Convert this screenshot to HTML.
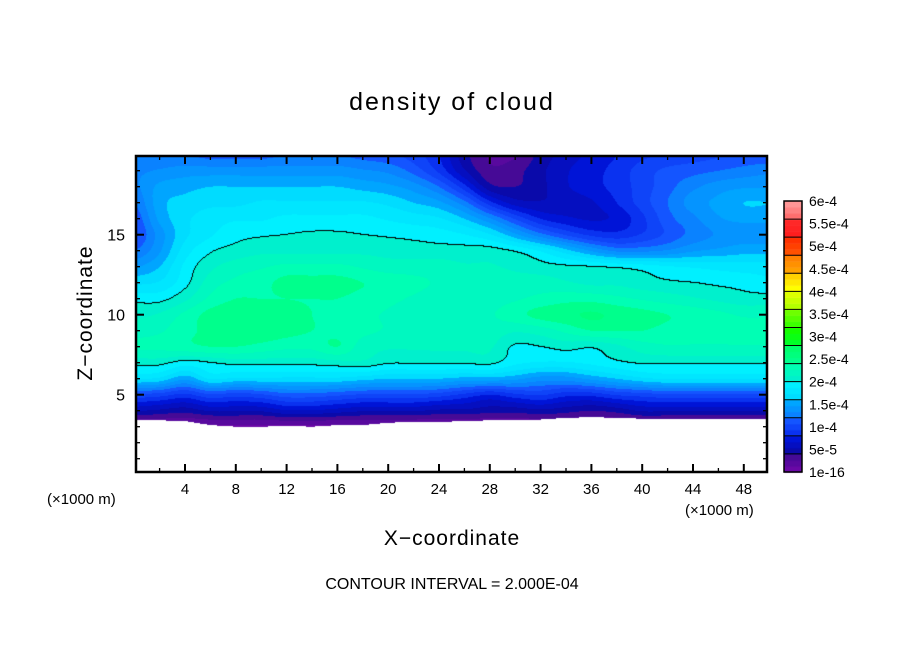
<!DOCTYPE html>
<html><head><meta charset="utf-8"><style>
body{margin:0;background:#fff;}
#wrap{position:relative;width:904px;height:654px;overflow:hidden;background:#fff;font-family:"Liberation Sans",sans-serif;color:#000;}
.t{position:absolute;white-space:nowrap;}
</style></head><body>
<div id="wrap">
<div class="t" style="left:0;width:904px;text-align:center;top:88px;font-size:25px;letter-spacing:2px;">density of cloud</div>
<canvas id="cv" width="904" height="654" style="position:absolute;left:0;top:0;"></canvas>
<svg id="sv" width="904" height="654" style="position:absolute;left:0;top:0;"></svg>
<div class="t" style="left:0;width:904px;text-align:center;top:527px;font-size:21px;letter-spacing:1px;">X−coordinate</div>
<div class="t" style="left:86px;top:313px;font-size:21px;letter-spacing:1px;transform:translate(-50%,-50%) rotate(-90deg);">Z−coordinate</div>
<div class="t" style="left:47px;top:491px;font-size:15px;">(×1000 m)</div>
<div class="t" style="left:685px;top:502px;font-size:15px;">(×1000 m)</div>
<div class="t" style="left:0;width:904px;text-align:center;top:576px;font-size:16px;">CONTOUR INTERVAL = 2.000E-04</div>
</div>
<script>
// grid x = 0,2,...,50 (km); rows z = 20 down to 3 (km); values in units of 1e-4
const xGrid=[0,2,4,6,8,10,12,14,16,18,20,22,24,26,28,30,32,34,36,38,40,42,44,46,48,50];
const zGrid=[20,19,18,17,16,15,14,13,12,11,10,9,8,7,6,5,4,3];
const row20=[1.2,1.2,1.2,1.15,1.15,1.15,1.2,1.2,1.2,1.15,1.1,1.0,0.8,0.45,0.25,0.25,0.45,0.6,0.7,0.8,0.9,0.95,1.0,1.05,1.1,1.1];
const row19=[1.3,1.35,1.4,1.4,1.4,1.4,1.4,1.4,1.4,1.35,1.3,1.15,0.9,0.55,0.3,0.35,0.5,0.65,0.75,0.85,1.0,1.1,1.15,1.2,1.25,1.3];
const row18=[1.3,1.5,1.55,1.6,1.6,1.6,1.6,1.6,1.6,1.55,1.5,1.4,1.2,0.85,0.45,0.4,0.5,0.65,0.75,0.85,1.0,1.15,1.3,1.4,1.45,1.45];
const row17=[1.2,1.55,1.65,1.7,1.7,1.75,1.75,1.75,1.75,1.75,1.7,1.6,1.5,1.25,0.85,0.6,0.55,0.6,0.65,0.8,1.0,1.2,1.4,1.5,1.6,1.6];
const row16=[1.1,1.5,1.7,1.8,1.85,1.85,1.9,1.9,1.9,1.9,1.85,1.8,1.75,1.6,1.35,1.05,0.8,0.7,0.65,0.7,0.9,1.15,1.3,1.45,1.5,1.5];
const row15=[1.05,1.4,1.7,1.85,1.95,1.98,2.0,2.02,2.02,2.0,1.98,1.96,1.93,1.87,1.75,1.5,1.25,1.05,0.9,0.85,0.95,1.1,1.25,1.35,1.4,1.4];
const row14=[1.2,1.45,1.8,1.98,2.05,2.1,2.1,2.1,2.1,2.1,2.08,2.06,2.05,2.05,2.05,1.98,1.85,1.65,1.45,1.3,1.3,1.35,1.45,1.5,1.55,1.55];
const row13=[1.45,1.6,1.9,2.1,2.2,2.25,2.3,2.3,2.3,2.25,2.2,2.2,2.2,2.15,2.15,2.1,2.05,2.02,2.0,1.97,1.93,1.88,1.85,1.82,1.8,1.8];
const row12=[1.7,1.75,1.95,2.2,2.3,2.35,2.45,2.45,2.45,2.4,2.35,2.3,2.25,2.2,2.2,2.2,2.2,2.15,2.1,2.1,2.05,2.02,2.0,1.97,1.95,1.9];
const row11=[1.95,1.95,2.1,2.3,2.4,2.4,2.4,2.4,2.4,2.35,2.3,2.25,2.2,2.2,2.2,2.25,2.3,2.35,2.35,2.3,2.25,2.2,2.15,2.1,2.05,2.05];
const row10=[2.1,2.15,2.3,2.45,2.5,2.5,2.45,2.4,2.35,2.3,2.25,2.2,2.2,2.2,2.25,2.35,2.45,2.5,2.55,2.5,2.45,2.4,2.35,2.3,2.25,2.25];
const row9=[2.2,2.25,2.35,2.45,2.5,2.5,2.45,2.4,2.35,2.3,2.25,2.2,2.15,2.15,2.2,2.15,2.2,2.3,2.4,2.4,2.4,2.35,2.3,2.3,2.3,2.3];
const row8=[2.3,2.3,2.35,2.4,2.4,2.35,2.3,2.3,2.4,2.2,2.15,2.15,2.15,2.15,2.15,1.98,2.0,2.05,2.02,2.1,2.2,2.25,2.25,2.25,2.25,2.25];
const row7=[2.05,2.05,1.95,2.0,2.05,2.05,2.05,2.05,2.08,2.1,2.02,2.02,2.02,2.02,2.04,1.9,1.85,1.85,1.9,1.97,2.02,2.02,2.02,2.02,2.02,2.02];
const row6=[1.75,1.7,1.5,1.75,1.7,1.7,1.7,1.7,1.7,1.65,1.6,1.6,1.6,1.55,1.55,1.5,1.4,1.4,1.5,1.6,1.7,1.75,1.75,1.75,1.75,1.75];
const row5=[1.05,1.0,0.9,1.05,1.0,1.05,1.15,1.15,1.1,1.05,1.05,1.05,1.0,0.9,0.8,0.9,0.95,0.85,0.85,0.95,1.0,1.05,1.05,1.05,1.05,1.05];
const row4=[0.55,0.5,0.45,0.55,0.55,0.55,0.65,0.65,0.6,0.55,0.55,0.55,0.5,0.5,0.45,0.45,0.5,0.45,0.4,0.45,0.55,0.55,0.55,0.55,0.55,0.55];
const row3=[0.1,0.1,0.1,0.1,0.1,0.1,0.1,0.1,0.1,0.1,0.1,0.1,0.1,0.1,0.1,0.1,0.1,0.1,0.1,0.1,0.1,0.1,0.1,0.1,0.1,0.1];
const groundZ=[3.4,3.4,3.35,3.1,3.0,3.0,3.05,3.0,3.1,3.1,3.25,3.3,3.3,3.35,3.4,3.4,3.45,3.55,3.6,3.55,3.5,3.5,3.5,3.5,3.5,3.5];
const rows=[row20,row19,row18,row17,row16,row15,row14,row13,row12,row11,row10,row9,row8,row7,row6,row5,row4,row3];
const xTicks=[4,8,12,16,20,24,28,32,36,40,44,48];
const zTicks=[5,10,15];
const cbLabels=["6e-4","5.5e-4","5e-4","4.5e-4","4e-4","3.5e-4","3e-4","2.5e-4","2e-4","1.5e-4","1e-4","5e-5","1e-16"];
const contourLevel=2.0;

const L=136,T=156,R=767,B=472;
function xs(x){return 134.2+x*12.7;}
function zs(z){return 474.7-z*16;}
function xinv(p){return (p-134.2)/12.7;}
function zinv(p){return (474.7-p)/16;}

const boxCols=[[[106,8,166],[70,10,150]],[[10,10,170],[0,20,215]],[[10,50,240],[20,85,255]],[[10,130,255],[0,165,255]],[[0,220,255],[0,240,255]],[[0,240,205],[0,255,180]],[[0,255,140],[0,255,110]],[[0,255,40],[20,255,0]],[[60,255,0],[110,255,0]],[[180,255,0],[220,255,0]],[[255,255,0],[255,210,0]],[[255,160,0],[255,130,0]],[[255,80,0],[255,50,0]],[[255,30,30],[255,40,40]],[[255,110,110],[255,150,150]]];
function colorFor(v){
  let k=Math.floor(v/0.4);k=Math.max(0,Math.min(14,k));
  let f=Math.floor(((v/0.4)-k)*3)/2;f=Math.max(0,Math.min(1,f));
  const a=boxCols[k][0],b=boxCols[k][1];
  return [a[0]+(b[0]-a[0])*f,a[1]+(b[1]-a[1])*f,a[2]+(b[2]-a[2])*f];
}
function cr(p0,p1,p2,p3,t){
  return 0.5*((2*p1)+(-p0+p2)*t+(2*p0-5*p1+4*p2-p3)*t*t+(-p0+3*p1-3*p2+p3)*t*t*t);
}
function gv(j,i){
  j=Math.max(0,Math.min(rows.length-1,j));i=Math.max(0,Math.min(xGrid.length-1,i));
  return rows[j][i];
}
function val(x,z){
  let xi=x/2;xi=Math.max(0,Math.min(xGrid.length-1.0001,xi));
  const i=Math.floor(xi),fx=xi-i;
  let zi=20-z;zi=Math.max(0,Math.min(zGrid.length-1.0001,zi));
  const j=Math.floor(zi),fz=zi-j;
  const r=[];
  for(let dj=-1;dj<=2;dj++){
    r.push(cr(gv(j+dj,i-1),gv(j+dj,i),gv(j+dj,i+1),gv(j+dj,i+2),fx));
  }
  return cr(r[0],r[1],r[2],r[3],fz);
}
function ground(x){
  let xi=x/2;xi=Math.max(0,Math.min(xGrid.length-1.0001,xi));
  const i=Math.floor(xi),fx=xi-i;
  return groundZ[i]*(1-fx)+groundZ[i+1]*fx;
}
const cv=document.getElementById('cv'),ctx=cv.getContext('2d');
const W=R-L,H=B-T;
const img=ctx.createImageData(W,H);
const vals=new Float32Array(W*H);
for(let py=0;py<H;py++){for(let px=0;px<W;px++){
  const x=xinv(L+px+0.5),z=zinv(T+py+0.5);
  vals[py*W+px]=(z<ground(x))?-1:Math.max(0,val(x,z));
}}
for(let py=0;py<H;py++){for(let px=0;px<W;px++){
  const v=vals[py*W+px],o=(py*W+px)*4;
  let c;
  if(v<0)c=[255,255,255];
  else{
    c=colorFor(v);
    const vr=px+1<W?vals[py*W+px+1]:v,vd=py+1<H?vals[(py+1)*W+px]:v;
    if(vr>=0&&vd>=0&&((v>=contourLevel)!=(vr>=contourLevel)||(v>=contourLevel)!=(vd>=contourLevel)))c=[0,0,0];
  }
  img.data[o]=c[0];img.data[o+1]=c[1];img.data[o+2]=c[2];img.data[o+3]=255;
}}
ctx.putImageData(img,L,T);
// colorbar
const cbX=784,cbTop=201,cbBot=472,cbH=(cbBot-cbTop)/15;
for(let k=0;k<15;k++){
  for(let s=0;s<3;s++){
    const c=colorFor(k*0.4+(s+0.5)*0.4/3);
    ctx.fillStyle='rgb('+c.map(Math.round).join(',')+')';
    const y0=cbBot-(k+1)*cbH+(2-s)*cbH/3;
    ctx.fillRect(cbX,y0,18,cbH/3+0.5);
  }
}
const NS='http://www.w3.org/2000/svg',sv=document.getElementById('sv');
function mk(tag,attrs){const e=document.createElementNS(NS,tag);for(const k in attrs)e.setAttribute(k,attrs[k]);sv.appendChild(e);return e;}
const frame=mk('rect',{x:L,y:T,width:W,height:H,fill:'none',stroke:'#000','stroke-width':2.5});


for(let x=2;x<50;x+=2){
  const major=xTicks.includes(x),len=major?8:4,px=xs(x);
  const t1=mk('line',{x1:px,y1:B,x2:px,y2:B-len,stroke:'#000','stroke-width':major?2:1.3});
  
  
  const t2=mk('line',{x1:px,y1:T,x2:px,y2:T+len,stroke:'#000','stroke-width':major?2:1.3});
  
  
}
xTicks.forEach(x=>{
  const t=mk('text',{x:xs(x),y:B+22,'text-anchor':'middle','font-size':15,'font-family':'Liberation Sans, sans-serif'});
  t.textContent=x;
  
  
});
for(let z=1;z<20;z++){
  const major=zTicks.includes(z),len=major?8:4,py=zs(z);
  const t1=mk('line',{x1:L,y1:py,x2:L+len,y2:py,stroke:'#000','stroke-width':major?2:1.3});
  
  
  const t2=mk('line',{x1:R,y1:py,x2:R-len,y2:py,stroke:'#000','stroke-width':major?2:1.3});
  
  
}
zTicks.forEach(z=>{
  const t=mk('text',{x:125,y:zs(z)+6,'text-anchor':'end','font-size':16,'font-family':'Liberation Sans, sans-serif'});
  t.textContent=z;
  
  
});
const cbf=mk('rect',{x:cbX,y:cbTop,width:18,height:cbBot-cbTop,fill:'none',stroke:'#000','stroke-width':1.5});


for(let k=1;k<15;k++){
  const l=mk('line',{x1:cbX,x2:cbX+18,y1:cbBot-k*cbH,y2:cbBot-k*cbH,stroke:'#000','stroke-width':1});
  
  
}
cbLabels.forEach((s,i)=>{
  const t=mk('text',{x:809,y:cbTop+i*(cbBot-cbTop)/12+5,'font-size':14,'font-family':'Liberation Sans, sans-serif'});
  t.textContent=s;
  
  
});
</script>
</body></html>
